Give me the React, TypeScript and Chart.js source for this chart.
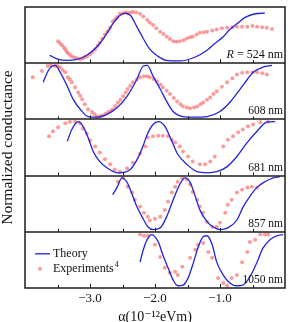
import React, { useEffect, useRef } from 'react';
import { Chart, registerables } from 'chart.js';

Chart.register(...registerables);

type P = [number, number];

// alpha (1e-12 eVm), normalized conductance within each panel (0..1)
const panelLabels = ['524', '608', '681', '857', '1050'];

const theory524: P[] = [
  [-3.62, 0.14], [-3.49, 0.07], [-3.35, 0.05], [-3.2, 0.07], [-3.08, 0.12], [-2.95, 0.23],
  [-2.85, 0.35], [-2.74, 0.53], [-2.65, 0.7], [-2.55, 0.84], [-2.46, 0.89], [-2.37, 0.84],
  [-2.28, 0.65], [-2.18, 0.44], [-2.08, 0.25], [-1.95, 0.12], [-1.83, 0.05], [-1.62, 0.04],
  [-1.38, 0.11], [-1.2, 0.23], [-1.08, 0.35], [-0.95, 0.47], [-0.85, 0.6], [-0.74, 0.7],
  [-0.62, 0.81], [-0.46, 0.88], [-0.31, 0.89],
];
const exp524: P[] = [
  [-3.49, 0.39], [-3.46, 0.35], [-3.43, 0.32], [-3.4, 0.28], [-3.38, 0.25], [-3.36, 0.21],
  [-3.34, 0.18], [-3.31, 0.15], [-3.28, 0.12], [-3.24, 0.1], [-3.2, 0.09], [-3.15, 0.07],
  [-3.11, 0.09], [-3.08, 0.11], [-3.04, 0.13], [-3.0, 0.16], [-2.96, 0.2], [-2.92, 0.25],
  [-2.88, 0.31], [-2.85, 0.37], [-2.81, 0.44], [-2.77, 0.51], [-2.73, 0.57], [-2.69, 0.63],
  [-2.65, 0.74], [-2.61, 0.78], [-2.58, 0.82], [-2.54, 0.88], [-2.49, 0.89], [-2.45, 0.9],
  [-2.42, 0.89], [-2.38, 0.9], [-2.34, 0.91], [-2.29, 0.9], [-2.23, 0.88], [-2.18, 0.83],
  [-2.12, 0.77], [-2.08, 0.72], [-2.03, 0.68], [-1.98, 0.62], [-1.92, 0.56], [-1.87, 0.52],
  [-1.82, 0.47], [-1.77, 0.43], [-1.72, 0.39], [-1.67, 0.38], [-1.62, 0.39], [-1.56, 0.41],
  [-1.51, 0.44], [-1.46, 0.46], [-1.42, 0.47], [-1.36, 0.51], [-1.31, 0.54], [-1.25, 0.55],
  [-1.2, 0.56], [-1.12, 0.58], [-1.05, 0.6], [-0.97, 0.62], [-0.89, 0.63], [-0.81, 0.64],
  [-0.74, 0.65], [-0.66, 0.65], [-0.58, 0.65], [-0.5, 0.66], [-0.43, 0.65], [-0.35, 0.64],
  [-0.28, 0.63], [-0.2, 0.61],
];

const theory608: P[] = [
  [-3.72, 0.66], [-3.65, 0.85], [-3.58, 0.95], [-3.53, 0.96], [-3.46, 0.84], [-3.35, 0.59],
  [-3.26, 0.36], [-3.15, 0.18], [-3.03, 0.05], [-2.89, 0.04], [-2.74, 0.09], [-2.58, 0.21],
  [-2.43, 0.41], [-2.28, 0.71], [-2.18, 0.95], [-2.12, 0.96], [-2.03, 0.77], [-1.92, 0.54],
  [-1.82, 0.32], [-1.72, 0.14], [-1.57, 0.05], [-1.42, 0.04], [-1.2, 0.05], [-1.0, 0.14],
  [-0.85, 0.3], [-0.69, 0.54], [-0.58, 0.71], [-0.49, 0.84], [-0.34, 0.93], [-0.2, 0.96],
];
const exp608: P[] = [
  [-3.88, 0.75], [-3.74, 0.86], [-3.65, 0.95], [-3.6, 0.96], [-3.54, 0.95], [-3.5, 0.95],
  [-3.46, 0.93], [-3.42, 0.88], [-3.38, 0.84], [-3.34, 0.75], [-3.31, 0.71], [-3.28, 0.66],
  [-3.23, 0.57], [-3.18, 0.48], [-3.15, 0.42], [-3.12, 0.36], [-3.08, 0.27], [-3.03, 0.18],
  [-2.97, 0.13], [-2.93, 0.09], [-2.89, 0.05], [-2.84, 0.06], [-2.8, 0.07], [-2.76, 0.1],
  [-2.72, 0.13], [-2.68, 0.15], [-2.65, 0.18], [-2.61, 0.24], [-2.57, 0.3], [-2.53, 0.35],
  [-2.49, 0.41], [-2.45, 0.48], [-2.42, 0.54], [-2.38, 0.6], [-2.34, 0.66], [-2.28, 0.71],
  [-2.23, 0.75], [-2.17, 0.77], [-2.12, 0.77], [-2.08, 0.75], [-2.02, 0.72], [-1.97, 0.68],
  [-1.92, 0.62], [-1.88, 0.57], [-1.82, 0.51], [-1.77, 0.45], [-1.71, 0.38], [-1.66, 0.32],
  [-1.61, 0.27], [-1.57, 0.23], [-1.51, 0.21], [-1.46, 0.2], [-1.4, 0.21], [-1.35, 0.23],
  [-1.3, 0.27], [-1.26, 0.3], [-1.2, 0.35], [-1.15, 0.39], [-1.1, 0.45], [-1.05, 0.5],
  [-0.97, 0.58], [-0.89, 0.66], [-0.81, 0.73], [-0.74, 0.8], [-0.66, 0.83], [-0.58, 0.84],
  [-0.5, 0.84], [-0.43, 0.84], [-0.35, 0.82], [-0.28, 0.8],
];

const theory681: P[] = [
  [-3.35, 0.61], [-3.28, 0.82], [-3.18, 0.96], [-3.11, 0.88], [-3.03, 0.68], [-2.95, 0.43],
  [-2.85, 0.25], [-2.74, 0.14], [-2.57, 0.05], [-2.38, 0.11], [-2.26, 0.32], [-2.18, 0.54],
  [-2.12, 0.73], [-2.03, 0.91], [-1.95, 0.96], [-1.85, 0.88], [-1.74, 0.61], [-1.65, 0.38],
  [-1.51, 0.2], [-1.35, 0.07], [-1.2, 0.05], [-1.05, 0.07], [-0.89, 0.16], [-0.74, 0.34],
  [-0.58, 0.59], [-0.43, 0.79], [-0.28, 0.95], [-0.15, 0.96],
];
const exp681: P[] = [
  [-3.63, 0.7], [-3.57, 0.79], [-3.49, 0.86], [-3.38, 0.93], [-3.31, 0.96], [-3.23, 0.96],
  [-3.15, 0.93], [-3.11, 0.84], [-3.05, 0.75], [-3.0, 0.63], [-2.92, 0.52], [-2.85, 0.41],
  [-2.77, 0.29], [-2.69, 0.2], [-2.62, 0.11], [-2.54, 0.07], [-2.43, 0.13], [-2.34, 0.23],
  [-2.23, 0.39], [-2.15, 0.52], [-2.11, 0.68], [-2.03, 0.7], [-1.95, 0.71], [-1.88, 0.71],
  [-1.8, 0.7], [-1.74, 0.64], [-1.69, 0.59], [-1.62, 0.52], [-1.57, 0.43], [-1.49, 0.34],
  [-1.42, 0.25], [-1.31, 0.2], [-1.23, 0.2], [-1.15, 0.25], [-1.08, 0.34], [-0.95, 0.52],
  [-0.88, 0.64], [-0.8, 0.7], [-0.72, 0.77], [-0.65, 0.82], [-0.57, 0.88], [-0.49, 0.91],
  [-0.38, 0.95], [-0.26, 0.96],
];

const theory857: P[] = [
  [-2.65, 0.66], [-2.58, 0.8], [-2.51, 0.96], [-2.43, 0.88], [-2.35, 0.66], [-2.28, 0.45],
  [-2.2, 0.27], [-2.11, 0.09], [-2.03, 0.04], [-1.92, 0.07], [-1.82, 0.27], [-1.72, 0.57],
  [-1.62, 0.84], [-1.54, 0.96], [-1.46, 0.88], [-1.38, 0.63], [-1.31, 0.39], [-1.2, 0.18],
  [-1.11, 0.09], [-1.0, 0.04], [-0.88, 0.07], [-0.74, 0.21], [-0.65, 0.43], [-0.54, 0.63],
  [-0.43, 0.79], [-0.31, 0.89], [-0.18, 0.96], [-0.08, 0.98],
];
const exp857: P[] = [
  [-2.57, 0.89], [-2.49, 0.96], [-2.42, 0.8], [-2.35, 0.7], [-2.31, 0.57], [-2.23, 0.45],
  [-2.17, 0.34], [-2.11, 0.27], [-2.08, 0.2], [-2.0, 0.23], [-1.92, 0.27], [-1.85, 0.39],
  [-1.8, 0.54], [-1.74, 0.7], [-1.69, 0.8], [-1.65, 0.89], [-1.58, 0.95], [-1.51, 0.93],
  [-1.46, 0.84], [-1.42, 0.71], [-1.35, 0.57], [-1.31, 0.45], [-1.26, 0.34], [-1.2, 0.18],
  [-1.12, 0.09], [-1.05, 0.09], [-1.0, 0.16], [-0.92, 0.34], [-0.88, 0.48], [-0.82, 0.57],
  [-0.74, 0.7], [-0.66, 0.75], [-0.58, 0.79], [-0.51, 0.8], [-0.43, 0.79],
];

const theory1050: P[] = [
  [-2.23, 0.46], [-2.18, 0.68], [-2.12, 0.86], [-2.05, 0.95], [-1.95, 0.82], [-1.88, 0.59],
  [-1.8, 0.36], [-1.72, 0.14], [-1.65, 0.04], [-1.57, 0.05], [-1.49, 0.18], [-1.42, 0.41],
  [-1.34, 0.71], [-1.26, 0.91], [-1.2, 0.93], [-1.12, 0.77], [-1.05, 0.46], [-0.95, 0.23],
  [-0.85, 0.09], [-0.74, 0.04], [-0.65, 0.05], [-0.54, 0.2], [-0.43, 0.46], [-0.34, 0.71],
  [-0.23, 0.86], [-0.12, 0.93], [-0.03, 0.95],
];
const exp1050: P[] = [
  [-2.23, 0.95], [-2.17, 0.93], [-2.11, 0.93], [-2.0, 0.77], [-1.92, 0.55], [-1.85, 0.36],
  [-1.77, 0.27], [-1.69, 0.29], [-1.65, 0.23], [-1.58, 0.38], [-1.46, 0.54], [-1.38, 0.68],
  [-1.34, 0.77], [-1.26, 0.8], [-1.18, 0.64], [-1.12, 0.54], [-1.03, 0.18], [-0.95, 0.09],
  [-0.89, 0.04], [-0.82, 0.18], [-0.74, 0.23], [-0.66, 0.46], [-0.58, 0.64], [-0.54, 0.82],
  [-0.46, 0.86], [-0.38, 0.95], [-0.31, 0.95], [-0.26, 0.95],
];

const theories = [theory524, theory608, theory681, theory857, theory1050];
const experiments = [exp524, exp608, exp681, exp857, exp1050];
const xMajorTicks = [-3, -2, -1];

const BLUE = '#2323dc';
const PINK = 'rgba(248,118,118,0.72)';
const FRAME = '#1c1c1c';
const SERIF = '"Liberation Serif", "DejaVu Serif", serif';

const panelsPlugin = {
  id: 'panels',
  afterDraw(chart: any) {
    const { ctx, chartArea: a, scales } = chart;
    const x = scales.x;
    const y = scales.y;
    const n = panelLabels.length;
    ctx.save();
    ctx.strokeStyle = FRAME;
    ctx.lineWidth = 1.5;
    ctx.strokeRect(a.left, a.top, a.right - a.left, a.bottom - a.top);
    for (let k = 1; k < n; k++) {
      const py = Math.round(y.getPixelForValue(k));
      ctx.beginPath();
      ctx.moveTo(a.left, py);
      ctx.lineTo(a.right, py);
      ctx.stroke();
    }
    // inward tick marks at the bottom of every panel
    ctx.lineWidth = 1;
    for (let k = 0; k < n; k++) {
      const py = y.getPixelForValue(k);
      x.ticks.forEach((t: any) => {
        if (t.value <= x.min || t.value >= x.max) return;
        const px = Math.round(x.getPixelForValue(t.value)) + 0.5;
        const major = xMajorTicks.some((m) => Math.abs(m - t.value) < 1e-6);
        const len = major ? 4 : 3;
        ctx.beginPath();
        ctx.moveTo(px, py);
        ctx.lineTo(px, py - len);
        ctx.stroke();
      });
    }
    // panel labels
    ctx.fillStyle = '#111';
    ctx.textBaseline = 'middle';
    ctx.textAlign = 'left';
    for (let i = 0; i < n; i++) {
      const py = y.getPixelForValue(n - 1 - i) - 8;
      const right = a.right - 2;
      if (i === 0) {
        ctx.font = `italic 12px ${SERIF}`;
        const w1 = ctx.measureText('R').width;
        ctx.font = `12px ${SERIF}`;
        const rest = ' = ' + panelLabels[i] + ' nm';
        const w2 = ctx.measureText(rest).width;
        ctx.font = `italic 12px ${SERIF}`;
        ctx.fillText('R', right - w1 - w2, py);
        ctx.font = `12px ${SERIF}`;
        ctx.fillText(rest, right - w2, py);
      } else {
        ctx.font = `11.5px ${SERIF}`;
        const s = panelLabels[i] + ' nm';
        const w = ctx.measureText(s).width;
        ctx.fillText(s, right - w, py);
      }
    }
    // legend inside bottom panel
    const top5 = y.getPixelForValue(1);
    const lx = a.left + 10;
    const ly1 = top5 + 22;
    const ly2 = top5 + 37;
    ctx.strokeStyle = BLUE;
    ctx.lineWidth = 1.3;
    ctx.beginPath();
    ctx.moveTo(lx, ly1);
    ctx.lineTo(lx + 15, ly1);
    ctx.stroke();
    ctx.fillStyle = PINK;
    ctx.beginPath();
    ctx.arc(lx + 5, ly2, 2, 0, Math.PI * 2);
    ctx.fill();
    ctx.fillStyle = '#111';
    ctx.font = `12px ${SERIF}`;
    ctx.fillText('Theory', lx + 18, ly1);
    ctx.fillText('Experiments', lx + 18, ly2);
    const we = ctx.measureText('Experiments').width;
    ctx.font = `8px ${SERIF}`;
    ctx.fillText('4', lx + 18 + we + 1, ly2 - 4);
    ctx.restore();
  },
};

export default function App() {
  const ref = useRef<HTMLCanvasElement | null>(null);
  useEffect(() => {
    if (!ref.current) return;
    const n = panelLabels.length;
    const datasets: any[] = [];
    for (let i = 0; i < n; i++) {
      const off = n - 1 - i;
      datasets.push({
        label: 'Theory ' + panelLabels[i],
        data: theories[i].map(([a, v]) => ({ x: a, y: v + off })),
        showLine: true,
        borderColor: BLUE,
        borderWidth: 1.3,
        pointRadius: 0,
        cubicInterpolationMode: 'monotone',
        order: 1,
      });
      datasets.push({
        label: 'Experiments ' + panelLabels[i],
        data: experiments[i].map(([a, v]) => ({ x: a, y: v + off })),
        showLine: false,
        backgroundColor: PINK,
        borderWidth: 0,
        pointRadius: 2,
        order: 2,
      });
    }
    const chart = new Chart(ref.current, {
      type: 'scatter',
      data: { datasets },
      options: {
        animation: false,
        responsive: false,
        events: [],
        layout: { padding: { top: 7, right: 8, left: 0, bottom: 0 } },
        plugins: { legend: { display: false }, tooltip: { enabled: false } },
        scales: {
          x: {
            type: 'linear',
            min: -4,
            max: 0,
            grid: { display: false, drawTicks: false },
            border: { display: false },
            ticks: {
              stepSize: 0.5,
              autoSkip: false,
              maxRotation: 0,
              padding: 3,
              color: '#111',
              font: { family: SERIF, size: 13 },
              callback: (v: any) => {
                const num = Number(v);
                return xMajorTicks.some((m) => Math.abs(m - num) < 1e-6)
                  ? '\u2212' + Math.abs(num).toFixed(1)
                  : '';
              },
            },
            title: {
              display: true,
              text: '\u03b1(10\u207b\u00b9\u00b2eVm)',
              color: '#111',
              font: { family: SERIF, size: 14, lineHeight: 1 },
              padding: { top: 0, bottom: -2 },
            },
            afterFit: (s: any) => { s.height = 34; },
          },
          y: {
            type: 'linear',
            min: 0,
            max: 5,
            grid: { display: false, drawTicks: false },
            border: { display: false },
            ticks: { display: false },
            title: {
              display: true,
              text: 'Normalized conductance',
              color: '#111',
              font: { family: SERIF, size: 15.5, lineHeight: 1 },
              padding: { top: 0, bottom: 0 },
            },
            afterFit: (s: any) => { s.width = 25; },
          },
        },
      },
      plugins: [panelsPlugin],
    });
    return () => chart.destroy();
  }, []);
  return (
    <div style={{ position: 'absolute', left: 0, top: 0, width: 293, height: 322, background: '#fff' }}>
      <canvas ref={ref} width={293} height={322} style={{ display: 'block', width: 293, height: 322 }} />
    </div>
  );
}
